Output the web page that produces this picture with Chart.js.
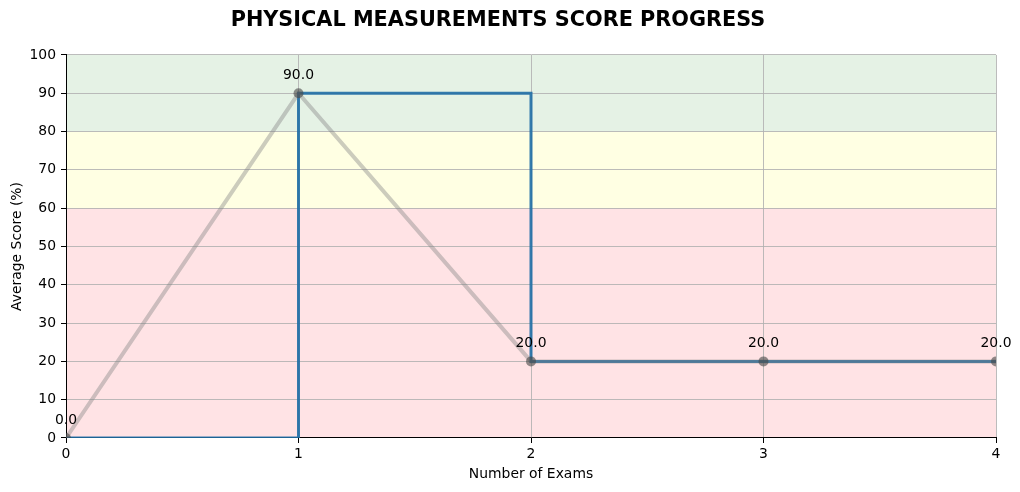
<!DOCTYPE html>
<html>
<head>
<meta charset="utf-8">
<script src="https://cdn.jsdelivr.net/npm/chart.js@4"></script>
<style>
  html, body { margin: 0; padding: 0; background: #fff; }
  #wrap { width: 1020px; height: 492px; }
</style>
</head>
<body>
<div id="wrap"><canvas id="myChart" width="1020" height="492"></canvas></div>
<script>
// exam numbers and average scores
const exams = [0, 1, 2, 3, 4];
const scores = [0, 90, 20, 20, 20];
const yTicks = [0, 10, 20, 30, 40, 50, 60, 70, 80, 90, 100];

// score bands: [from, to]
const bandRanges = [[0, 60], [60, 80], [80, 100]];
const bandColors = ['rgba(255, 0, 20, 0.11)', 'rgba(255, 255, 0, 0.11)', 'rgba(0, 128, 0, 0.10)'];

const points = exams.map((x, i) => ({ x: x, y: scores[i] }));

const bandsPlugin = {
    id: 'bands',
    beforeDraw(chart) {
        const { ctx, chartArea, scales } = chart;
        ctx.save();
        bandRanges.forEach((r, i) => {
            const top = scales.y.getPixelForValue(r[1]);
            const bottom = scales.y.getPixelForValue(r[0]);
            ctx.fillStyle = bandColors[i];
            ctx.fillRect(chartArea.left, top, chartArea.right - chartArea.left, bottom - top);
        });
        ctx.restore();
    }
};

const labelPlugin = {
    id: 'valueLabels',
    afterDatasetsDraw(chart) {
        const { ctx, scales } = chart;
        ctx.save();
        ctx.font = '13.9px "DejaVu Sans"';
        ctx.fillStyle = '#000';
        ctx.textAlign = 'center';
        ctx.textBaseline = 'middle';
        exams.forEach((x, i) => {
            const px = scales.x.getPixelForValue(x);
            const py = scales.y.getPixelForValue(scores[i]);
            ctx.fillText(scores[i].toFixed(1), px, py - 18);
        });
        ctx.restore();
    }
};

const ch = document.getElementById('myChart').getContext('2d');
const tickFont = { family: '"DejaVu Sans"', size: 13.9 };

new Chart(ch, {
    type: 'line',
    data: {
        datasets: [
            {
                label: 'Score',
                data: points,
                borderColor: 'rgba(128, 128, 128, 0.4)',
                borderWidth: 4,
                pointRadius: 5,
                pointBackgroundColor: 'rgba(70, 70, 70, 0.6)',
                pointBorderWidth: 0,
                clip: 0,
                order: 0
            },
            {
                label: 'Step',
                data: points,
                stepped: 'before',
                borderColor: 'rgba(31, 110, 165, 0.9)',
                borderWidth: 3,
                pointRadius: 0,
                clip: 0,
                order: 1
            }
        ]
    },
    options: {
        responsive: false,
        animation: false,
        layout: { padding: { left: 0, right: 24, top: 0, bottom: 0 } },
        plugins: {
            legend: { display: false },
            tooltip: { enabled: false },
            title: {
                display: true,
                text: 'PHYSICAL MEASUREMENTS SCORE PROGRESS',
                color: '#000',
                font: { family: '"DejaVu Sans"', size: 20.8, weight: 'bold' },
                padding: { top: 8, bottom: 22 }
            }
        },
        scales: {
            x: {
                type: 'linear',
                min: 0,
                max: 4,
                afterFit(s) { s.height = 54; },
                ticks: {
                    stepSize: 1,
                    color: '#000',
                    font: tickFont,
                    padding: 3
                },
                grid: { color: 'rgba(176,176,176,0.85)', tickColor: '#000', tickLength: 5 },
                border: { color: '#000', width: 1 },
                title: {
                    display: true,
                    text: 'Number of Exams',
                    color: '#000',
                    font: tickFont,
                    padding: { top: 0, bottom: 9 }
                }
            },
            y: {
                min: 0,
                max: 100,
                afterFit(s) { s.width = 66; },
                afterBuildTicks(s) { s.ticks = yTicks.map(v => ({ value: v })); },
                ticks: {
                    color: '#000',
                    font: tickFont,
                    padding: 5
                },
                grid: { color: 'rgba(176,176,176,0.85)', tickColor: '#000', tickLength: 5 },
                border: { color: '#000', width: 1 },
                title: {
                    display: true,
                    text: 'Average Score (%)',
                    color: '#000',
                    font: tickFont,
                    padding: { top: 9, bottom: 0 }
                }
            }
        }
    },
    plugins: [bandsPlugin, labelPlugin]
});
</script>
</body>
</html>
